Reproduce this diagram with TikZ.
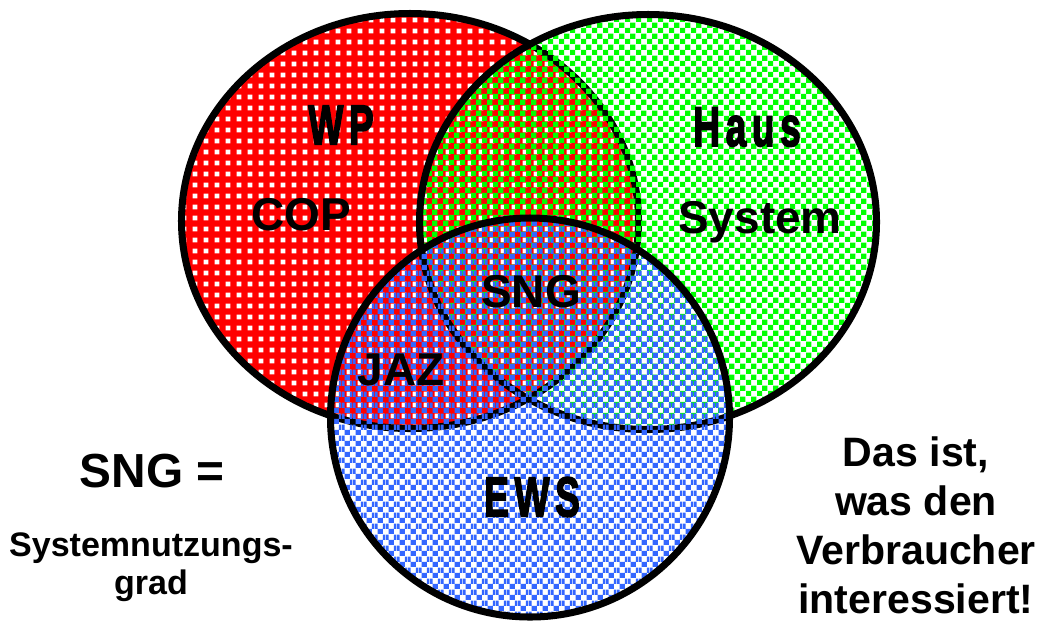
\documentclass[tikz,border=0pt]{standalone}
\usepackage{fontspec}
\setmainfont{Liberation Sans}
\newfontfamily\schmalfont{Liberation Sans}[LetterSpace=15,BoldFeatures={FakeBold=3}]
\usetikzlibrary{patterns}
\definecolor{wprot}{RGB}{255,0,0}
\definecolor{hausgruen}{RGB}{0,255,0}
\definecolor{ewsblau}{RGB}{51,102,255}
% Muster: Punkte fuer WP, Karo fuer Haus und EWS
\pgfdeclarepatternformonly{wppunkte}{\pgfpointorigin}{\pgfqpoint{7.5pt}{7.5pt}}{\pgfqpoint{7.5pt}{7.5pt}}{%
  \pgfpathrectangle{\pgfqpoint{2pt}{2pt}}{\pgfqpoint{3.4pt}{3.4pt}}%
  \pgfusepath{fill}}
\pgfdeclarepatternformonly{hauskaro}{\pgfpointorigin}{\pgfqpoint{7.6pt}{7.6pt}}{\pgfqpoint{7.6pt}{7.6pt}}{%
  \pgfpathrectangle{\pgfpointorigin}{\pgfqpoint{3.8pt}{3.8pt}}%
  \pgfpathrectangle{\pgfqpoint{3.8pt}{3.8pt}}{\pgfqpoint{3.8pt}{3.8pt}}%
  \pgfusepath{fill}}
\pgfdeclarepatternformonly{ewskaro}{\pgfpointorigin}{\pgfqpoint{7.6pt}{7.6pt}}{\pgfqpoint{7.6pt}{7.6pt}}{%
  \pgfpathrectangle{\pgfqpoint{1.9pt}{0pt}}{\pgfqpoint{3.8pt}{3.8pt}}%
  \pgfpathrectangle{\pgfqpoint{5.7pt}{3.8pt}}{\pgfqpoint{1.9pt}{3.8pt}}%
  \pgfpathrectangle{\pgfqpoint{0pt}{3.8pt}}{\pgfqpoint{1.9pt}{3.8pt}}%
  \pgfusepath{fill}}
\begin{document}
\begin{tikzpicture}[x=0.025cm,y=-0.025cm,
    rand/.style={line width=5pt},
    gross/.style={font=\fontsize{32.7}{39}\selectfont\bfseries},
    schmal/.style={font=\schmalfont\fontsize{40}{48}\selectfont\bfseries,xscale=0.66}]
  \useasboundingbox (0,0) rectangle (1043,621);
  % WP (rot)
  \fill[wprot] (410,221) ellipse [x radius=228.5, y radius=207.5];
  \fill[pattern=wppunkte,pattern color=white] (410,221) ellipse [x radius=228.5, y radius=207.5];
  \draw[rand] (410,221) ellipse [x radius=228.5, y radius=207.5];
  % Haus (gruen)
  \fill[pattern=hauskaro,pattern color=hausgruen] (648,222) ellipse [x radius=228.5, y radius=207.5];
  \draw[rand] (648,222) ellipse [x radius=228.5, y radius=207.5];
  % EWS (blau)
  \fill[pattern=ewskaro,pattern color=ewsblau] (530,417.5) circle (199.5);
  \draw[rand] (530,417.5) circle (199.5);
  % Beschriftung
  \node[schmal] (wp) at (341,125) {WP};
  \node[schmal] (haus) at (747,127) {Haus};
  \node[schmal] (ews) at (532,497) {EWS};
  \node[gross] (cop) at (301,215) {COP};
  \node[gross,anchor=base] (system) at (760,233) {System};
  \node[gross] (sng) at (531,292) {SNG};
  \node[gross] (jaz) at (401,370) {JAZ};
  % Texte links und rechts
  \node[font=\fontsize{34}{40}\selectfont\bfseries] (sngdef) at (152,471) {SNG =};
  \node[font=\fontsize{24.2}{27}\selectfont\bfseries,align=center] (sngname) at (151,567) {Systemnutzungs-\\grad};
  \node[font=\fontsize{29.2}{34.9}\selectfont\bfseries,align=center] (verbraucher) at (916,525) {Das ist,\\was den\\Verbraucher\\interessiert!};
\end{tikzpicture}
\end{document}
